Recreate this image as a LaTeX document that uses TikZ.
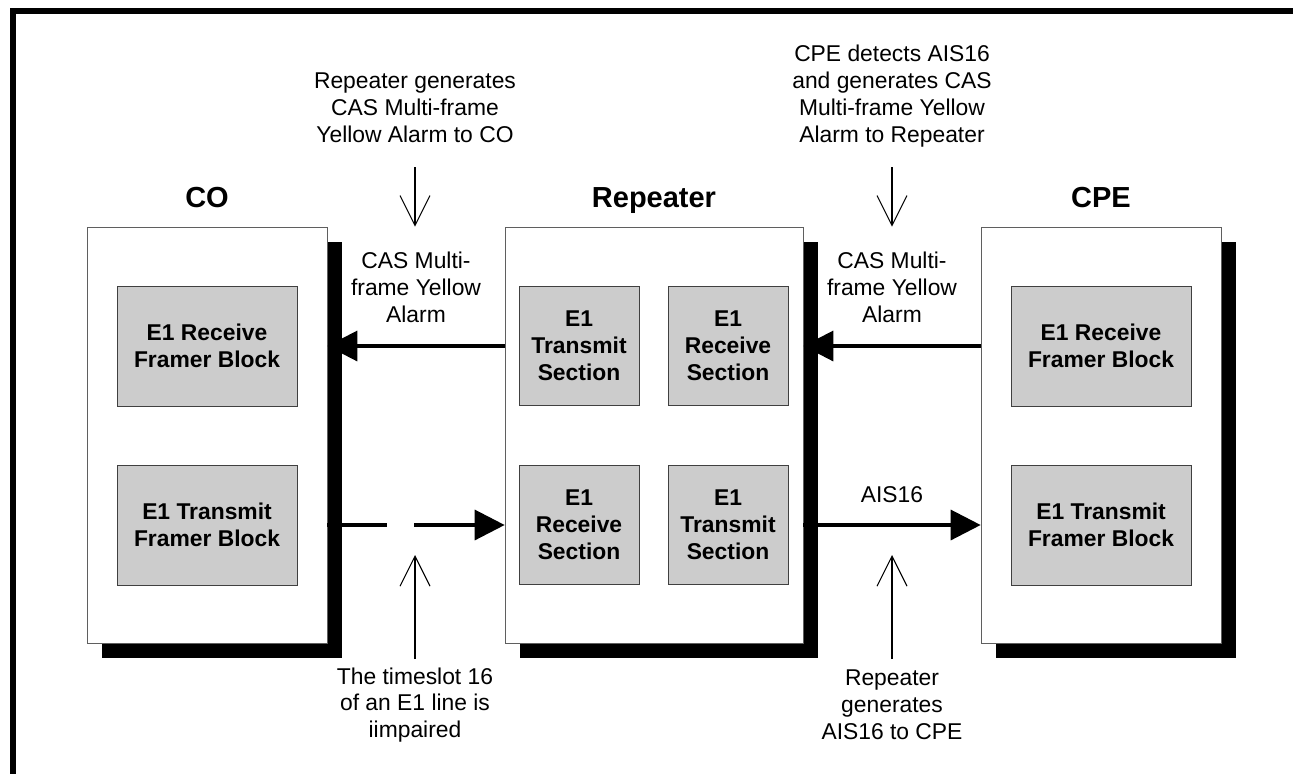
\documentclass[tikz,border=0pt]{standalone}
\usepackage{fontspec}
\setmainfont{Liberation Sans}
\definecolor{blockgray}{RGB}{204,204,204}
\definecolor{edgegray}{RGB}{95,95,95}
\usetikzlibrary{arrows.meta,shadows}
\tikzstyle{unit} = [draw=edgegray, fill=white, minimum width=4.8cm, minimum height=8.32cm, drop shadow={shadow xshift=0.3cm, shadow yshift=-0.3cm, fill=black, opacity=1}]
\tikzstyle{block} = [draw=black!75, fill=blockgray, align=center, inner sep=0pt, font=\bfseries\fontsize{13}{15.3}\selectfont]
\tikzstyle{title} = [anchor=base, font=\bfseries\fontsize{16.5}{19}\selectfont]
\tikzstyle{note} = [align=center, inner sep=0pt, font=\fontsize{13}{15.3}\selectfont]
\tikzstyle{signal} = [draw, line width=1.9pt, -{Triangle[length=0.6cm,width=0.6cm]}]
\tikzstyle{pointer} = [draw, line width=0.6pt, -{Straight Barb[length=0.6cm,width=0.6cm]}]

\begin{document}
\begin{tikzpicture}[x=0.02cm,y=-0.02cm]
          \useasboundingbox (0,0) rectangle (1293,774);
          \fill (10,8) rectangle (16,774);
          \fill (10,8) rectangle (1293,14);
          % the three units
          \node[unit] (co) at (207,435) {};
          \node[unit,minimum width=5.96cm] (rep) at (654,435) {};
          \node[unit] (cpe) at (1101,435) {};
          \node[title] (cot) at (207,207) {CO};
          \node[title] (rept) at (654,207) {Repeater};
          \node[title] (cpet) at (1101,207) {CPE};
          % blocks
          \node[block,minimum width=3.6cm,minimum height=2.4cm] (corx) at (207,346) {E1 Receive\\Framer Block};
          \node[block,minimum width=3.6cm,minimum height=2.4cm] (cotx) at (207,525) {E1 Transmit\\Framer Block};
          \node[block,minimum width=2.4cm,minimum height=2.38cm] (reptxa) at (579,346) {E1\\Transmit\\Section};
          \node[block,minimum width=2.4cm,minimum height=2.38cm] (reprxa) at (728,346) {E1\\Receive\\Section};
          \node[block,minimum width=2.4cm,minimum height=2.38cm] (reprxb) at (579,525) {E1\\Receive\\Section};
          \node[block,minimum width=2.4cm,minimum height=2.38cm] (reptxb) at (728,525) {E1\\Transmit\\Section};
          \node[block,minimum width=3.6cm,minimum height=2.4cm] (cperx) at (1101,346) {E1 Receive\\Framer Block};
          \node[block,minimum width=3.6cm,minimum height=2.4cm] (cpetx) at (1101,525) {E1 Transmit\\Framer Block};
          % signals
          \draw[signal] (rep.west |- reptxa) -- (co.east |- corx);
          \draw[signal] (cpe.west |- cperx) -- (rep.east |- reprxa);
          \draw[signal,dash pattern=on 1.2cm off 0.54cm on 10cm off 0cm] (co.east |- cotx) -- (rep.west |- reprxb);
          \draw[signal] (rep.east |- reptxb) -- (cpe.west |- cpetx);
          \node[note] (yella) at (416,287) {CAS Multi-\\frame Yellow\\Alarm};
          \node[note] (yellb) at (892,287) {CAS Multi-\\frame Yellow\\Alarm};
          \node[note] (ais) at (892,495) {AIS16};
          % notes
          \node[note] (notea) at (415,108) {Repeater generates\\CAS Multi-frame\\Yellow Alarm to CO};
          \node[note] (noteb) at (892,96) {CPE detects AIS16\\and generates CAS\\Multi-frame Yellow\\Alarm to Repeater};
          \node[note] (notec) at (415,705) {The timeslot 16\\of an E1 line is\\iimpaired};
          \node[note] (noted) at (892,705) {Repeater\\generates\\AIS16 to CPE};
          \coordinate (pa) at (415,167);
          \coordinate (pb) at (892,167);
          \coordinate (pc) at (415,659);
          \coordinate (pd) at (892,659);
          \coordinate (pcend) at (415,555);
          \coordinate (pdend) at (892,555);
          \draw[pointer] (pa) -- (pa |- rep.north);
          \draw[pointer] (pb) -- (pb |- cpe.north);
          \draw[pointer] (pc) -- (pcend);
          \draw[pointer] (pd) -- (pdend);
        \end{tikzpicture}
\end{document}
